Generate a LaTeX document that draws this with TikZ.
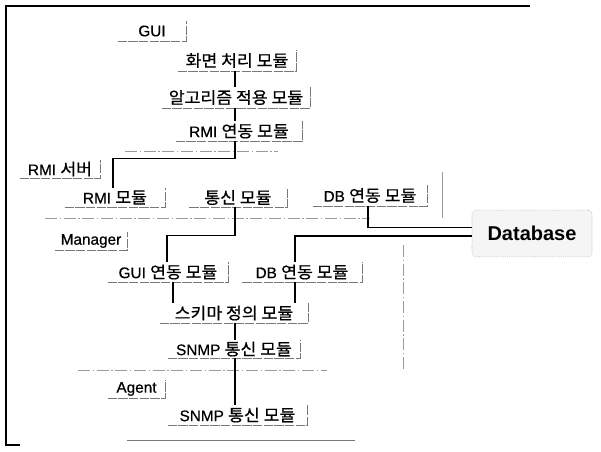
\documentclass[tikz,border=0pt]{standalone}
\usepackage{fontspec}
\setmainfont{Liberation Sans}[UprightFeatures={FakeBold=0.6}]
\newfontfamily\krfont{Noto Sans CJK KR}[FakeBold=0.6,FakeStretch=1.05]
\usetikzlibrary{positioning,calc}
\definecolor{edgegray}{RGB}{120,120,120}
\definecolor{sepgray}{RGB}{155,155,155}
\tikzset{
    mod/.style={rectangle,inner sep=0pt,minimum height=15pt,font=\fontsize{11.5}{13}\selectfont},
    boxline/.style={draw=edgegray,thin,dash pattern=on 7pt off 1pt},
    conn/.style={draw=black,line width=1pt},
    sep/.style={draw=sepgray,thin,dash pattern=on 9pt off 2pt on 1pt off 2pt},
    dbase/.style={rectangle,rounded corners=3pt,draw=sepgray,densely dotted,fill=black!4,inner sep=0pt,font=\bfseries\fontsize{15}{18}\selectfont},
}
\newcommand{\ko}[1]{{\krfont\fontsize{12.3}{13}\selectfont #1}}
\newcommand{\openbox}[1]{\draw[boxline] (#1.south west) -- (#1.south east) -- (#1.north east);}

\begin{document}
\begin{tikzpicture}[x=0.75pt,y=-0.75pt]
\useasboundingbox (0,0) rectangle (601,452);
% frame
\draw[black,line width=0.8pt] (530,6) -- (6,6) -- (6,445) -- (20,445);

% GUI
\node[mod,minimum width=51pt] (gui) at (152,31) {GUI};
\node[mod,minimum width=88.5pt,minimum height=15.75pt] (hwa) at (237,60.5) {\ko{화면 처리 모듈}};
\node[mod,minimum width=111pt,minimum height=15.75pt] (algo) at (236,97.5) {\ko{알고리즘 적용 모듈}};
\node[mod,minimum width=94.5pt] (rmil) at (239,131) {RMI \ko{연동 모듈}};

% RMI server
\node[mod,minimum width=60pt,minimum height=13.5pt] (rmis) at (60,169) {RMI \ko{서버}};
\node[mod,minimum width=75pt,minimum height=14.25pt] (rmim) at (115,197.5) {RMI \ko{모듈}};
\node[mod,minimum width=72.75pt,minimum height=14.25pt] (comm) at (238,197.5) {\ko{통신 모듈}};
\node[mod,minimum width=85.5pt,minimum height=15.75pt] (dbup) at (370,195.5) {DB \ko{연동 모듈}};
\node[dbase,minimum width=90pt,minimum height=35pt] (dbs) at (532,233.5) {Database};

% Manager
\node[mod,minimum width=54pt,minimum height=13.5pt] (mgr) at (91,241) {Manager};
\node[mod,minimum width=90pt] (guil) at (168,272) {GUI \ko{연동 모듈}};
\node[mod,minimum width=89.25pt] (dbl) at (302,272) {DB \ko{연동 모듈}};
\node[mod,minimum width=111pt] (schema) at (234,313) {\ko{스키마 정의 모듈}};
\node[mod,minimum width=99pt,minimum height=13.5pt] (snmpm) at (234,349) {SNMP \ko{통신 모듈}};

% Agent
\node[mod,minimum width=42.75pt,minimum height=13.5pt] (agent) at (136.5,389) {Agent};
\node[mod,minimum width=104.25pt] (snmpa) at (237.5,415) {SNMP \ko{통신 모듈}};

\foreach \n in {gui,hwa,algo,rmil,rmis,rmim,comm,dbup,mgr,guil,dbl,schema,snmpm,agent,snmpa}{
    \openbox{\n}
}

% separators
\draw[sep] (125,151) -- (278,151);
\draw[sep] (45,218) -- (370,218);
\draw[sep] (78,370) -- (327,370);
\draw[sep] (403,245) -- (403,370);
\draw[draw=sepgray,thin] (442,172) -- (442,218);
\draw[draw=edgegray,thin] (127,440) -- (355,440);

% connectors
\draw[conn] (hwa.south -| 235,0) -- (algo.north -| 235,0);
\draw[conn] (algo.south -| 235,0) -- (rmil.north -| 235,0);
\draw[conn] (rmil.south -| 235,0) -- ++(0,17) -| (rmim.north -| 113,0);
\draw[conn] (comm.south -| 235,0) -- ++(0,28) -| (guil.north -| 167,0);
\draw[conn] (dbup.south -| 368,0) |- ([yshift=4.5pt]dbs.west);
\draw[conn] ([yshift=-2pt]dbs.west) -| (dbl.north -| 295,0);
\draw[conn] (guil.south -| 173,0) -- (schema.north -| 173,0);
\draw[conn] (dbl.south -| 295,0) -- (schema.north -| 295,0);
\draw[conn] (schema.south -| 235,0) -- (snmpm.north -| 235,0);
\draw[conn] (snmpm.south -| 235,0) -- (snmpa.north -| 235,0);
\end{tikzpicture}
\end{document}
